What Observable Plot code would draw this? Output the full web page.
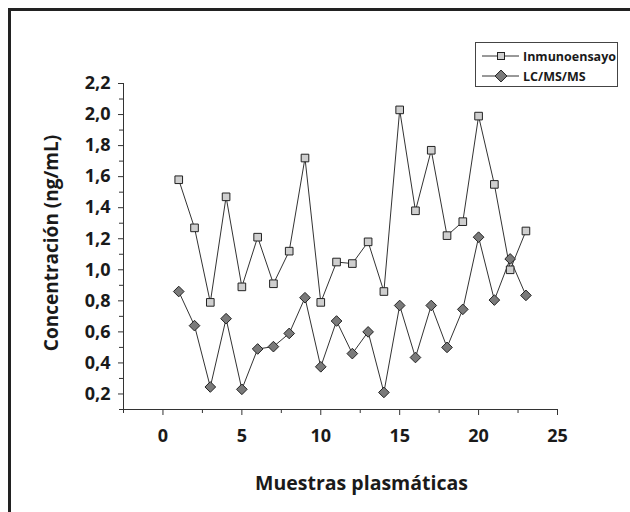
<!DOCTYPE html>
<html>
<head>
<meta charset="utf-8">
<script src="https://cdn.jsdelivr.net/npm/d3@7"></script>
<script src="https://cdn.jsdelivr.net/npm/@observablehq/plot@0.6"></script>
<style>
  html, body { margin: 0; padding: 0; background: #fff; overflow: hidden; }
  #wrap { position: relative; width: 630px; height: 512px; overflow: hidden; }
  #frame { position: absolute; left: 8px; top: 8px; width: 640px; height: 520px;
           border-left: 3px solid #222; border-top: 3px solid #222; box-sizing: border-box; }
  #chart { position: absolute; left: 0; top: 0; }
  #legend { position: absolute; left: 0; top: 0; }
</style>
</head>
<body>
<div id="wrap">
  <div id="frame"></div>
  <div id="chart"></div>
  <svg id="legend" width="630" height="512"></svg>
</div>
<script>
const samples = [1,2,3,4,5,6,7,8,9,10,11,12,13,14,15,16,17,18,19,20,21,22,23];
const inmunoensayo = [1.58,1.27,0.79,1.47,0.89,1.21,0.91,1.12,1.72,0.79,1.05,1.04,1.18,0.86,2.03,1.38,1.77,1.22,1.31,1.99,1.55,1.00,1.25];
const lcmsms = [0.86,0.64,0.245,0.685,0.23,0.49,0.505,0.59,0.82,0.375,0.67,0.46,0.60,0.21,0.77,0.435,0.77,0.50,0.745,1.21,0.805,1.07,0.835];
const seriesNames = ["Inmunoensayo", "LC/MS/MS"];
const xTicks = [0,5,10,15,20,25];
const xMinorTicks = [-2.5,2.5,7.5,12.5,17.5,22.5];
const yTicks = [0.2,0.4,0.6,0.8,1.0,1.2,1.4,1.6,1.8,2.0,2.2];
const yMinorTicks = [0.1,0.3,0.5,0.7,0.9,1.1,1.3,1.5,1.7,1.9,2.1];

const dataA = samples.map((s, i) => ({x: s, y: inmunoensayo[i]}));
const dataB = samples.map((s, i) => ({x: s, y: lcmsms[i]}));
const fmt = d => d.toFixed(1).replace(".", ",");
const FONT = "'Open Sans', sans-serif";

const chart = Plot.plot({
  width: 630,
  height: 512,
  marginLeft: 123,
  marginRight: 73,
  marginTop: 83,
  marginBottom: 103,
  style: {fontFamily: FONT, fontWeight: "bold", background: "transparent", color: "#222"},
  x: {domain: [-2.5, 25]},
  y: {domain: [0.1, 2.2]},
  marks: [
    Plot.axisY({ticks: yMinorTicks, tickSize: 4, tickFormat: () => "", label: null, stroke: "#333"}),
    Plot.axisY({ticks: yTicks, tickSize: 5, tickPadding: 8, tickFormat: fmt, label: null,
                fontSize: 18, fontWeight: "bold", fill: "#1a1a1a", stroke: "#333"}),
    Plot.axisX({ticks: xMinorTicks, tickSize: 4, tickFormat: () => "", label: null, stroke: "#333"}),
    Plot.axisX({ticks: xTicks, tickSize: 6, tickPadding: 14, tickFormat: d => String(d), label: null,
                fontSize: 18, fontWeight: "bold", fill: "#1a1a1a", stroke: "#333"}),
    Plot.ruleX([-2.5], {stroke: "#333", strokeWidth: 1}),
    Plot.ruleY([0.1], {stroke: "#333", strokeWidth: 1}),
    Plot.line(dataA, {x: "x", y: "y", stroke: "#333", strokeWidth: 1}),
    Plot.line(dataB, {x: "x", y: "y", stroke: "#333", strokeWidth: 1}),
    Plot.dot(dataA, {x: "x", y: "y", symbol: "square", r: 4.3, fill: "#cfcfcf", stroke: "#222", strokeWidth: 1}),
    Plot.dot(dataB, {x: "x", y: "y", symbol: "diamond2", r: 4.8, fill: "#7a7a7a", stroke: "#222", strokeWidth: 1}),
    Plot.text(["Muestras plasmáticas"], {frameAnchor: "bottom", textAnchor: "middle", lineAnchor: "middle",
                dx: 21, dy: 74, fontSize: 19.5, fontWeight: "bold", fill: "#1a1a1a"}),
    Plot.text(["Concentración (ng/mL)"], {frameAnchor: "left", textAnchor: "middle", lineAnchor: "middle",
                rotate: -90, dx: -72, dy: -3.5, fontSize: 19, fontWeight: "bold", fill: "#1a1a1a"})
  ]
});
document.getElementById("chart").appendChild(chart);

// legend
const lg = d3.select("#legend");
lg.append("rect").attr("x", 475.5).attr("y", 42.5).attr("width", 142).attr("height", 44)
  .attr("fill", "#fff").attr("stroke", "#444").attr("stroke-width", 1);
const rows = [
  {name: seriesNames[0], y: 56, sym: "square"},
  {name: seriesNames[1], y: 76, sym: "diamond"}
];
rows.forEach(r => {
  lg.append("line").attr("x1", 482).attr("x2", 519).attr("y1", r.y).attr("y2", r.y)
    .attr("stroke", "#333").attr("stroke-width", 1);
  if (r.sym === "square") {
    lg.append("rect").attr("x", 497.5).attr("y", r.y - 3.5).attr("width", 7).attr("height", 7)
      .attr("fill", "#cfcfcf").attr("stroke", "#222");
  } else {
    lg.append("path").attr("d", d3.symbol(d3.symbolDiamond2, 90)())
      .attr("transform", `translate(501,${r.y})`).attr("fill", "#7a7a7a").attr("stroke", "#222");
  }
  lg.append("text").attr("x", 523).attr("y", r.y + 4.5).text(r.name)
    .attr("font-family", FONT).attr("font-weight", "bold").attr("font-size", 12.5)
    .attr("fill", "#1a1a1a");
});
</script>
</body>
</html>
